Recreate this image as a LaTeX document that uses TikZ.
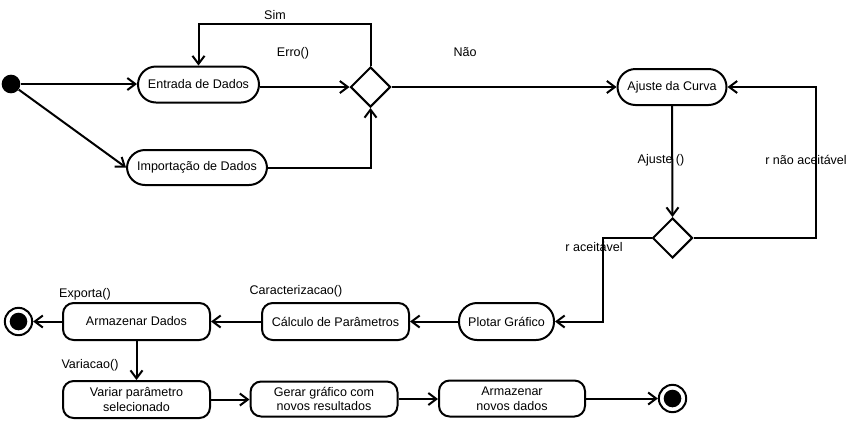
\documentclass[tikz,border=0pt]{standalone}
\usepackage{fontspec}
\setmainfont{Liberation Sans}
\usetikzlibrary{arrows.meta,shapes.geometric}
\tikzset{
  px/.style={x=0.75pt,y=-0.75pt},
  lbl/.style={font=\fontsize{9.4pt}{11pt}\selectfont,inner sep=0pt},
  act/.style={draw,line width=1.5pt,rectangle,font=\fontsize{9.4pt}{11pt}\selectfont,inner sep=1pt,align=center},
  stad/.style={act,rounded corners=13.5pt},
  rbox/.style={act,rounded corners=8pt},
  dec/.style={draw,line width=1.5pt,diamond,minimum width=30pt,minimum height=30pt,inner sep=0pt},
  startst/.style={circle,fill=black,minimum size=14pt,inner sep=0pt},
  endst/.style={circle,draw,line width=1.5pt,minimum size=20.5pt,inner sep=0pt,
     path picture={\fill (path picture bounding box.center) circle (6.6pt);}},
  flow/.style={line width=1.5pt,-{Straight Barb[length=6pt,width=9pt,line width=1.5pt]}},
}
\begin{document}
\begin{tikzpicture}[px]
\useasboundingbox (0,0) rectangle (859,426);
% labels
\node[lbl] (lsim) at (275,15) {Sim};
\node[lbl] (lerro) at (293,53) {Erro()};
\node[lbl] (lnao) at (465,52) {Não};
\node[lbl] (lajuste) at (661,160) {Ajuste ()};
\node[lbl] (lrna) at (806,160) {r não aceitável};
\node[lbl] (lra) at (594,247) {r aceitável};
\node[lbl] (lexp) at (85,294) {Exporta()};
\node[lbl] (lcar) at (296,291) {Caracterizacao()};
\node[lbl] (lvar) at (90,365) {Variacao()};
% nodes
\node[startst] (ini) at (11,84) {};
\node[stad,minimum width=90.75pt,minimum height=27pt] (ent) at (198.5,84.5) {Entrada de Dados};
\node[stad,minimum width=105pt,minimum height=26.25pt] (imp) at (197,167.5) {Importação de Dados};
\node[dec] (d1) at (370.5,87) {};
\node[stad,minimum width=81.75pt,minimum height=27pt] (aju) at (672,87) {Ajuste da Curva};
\node[dec] (d2) at (672.5,238) {};
\node[stad,minimum width=71.25pt,minimum height=27.75pt] (plo) at (506.5,321.5) {Plotar Gráfico};
\node[rbox,minimum width=110.25pt,minimum height=27.75pt] (cal) at (335.5,321.5) {Cálculo de Parâmetros};
\node[rbox,minimum width=110.25pt,minimum height=27.75pt] (arm) at (136.5,321.5) {Armazenar Dados};
\node[endst] (fin1) at (18.5,321.5) {};
\node[rbox,minimum width=110.25pt,minimum height=27.75pt] (var) at (136.5,399.5) {Variar parâmetro\\selecionado};
\node[rbox,minimum width=110.25pt,minimum height=26.25pt] (ger) at (324,399) {Gerar gráfico com\\novos resultados};
\node[rbox,minimum width=109.5pt,minimum height=27pt] (nov) at (512,398.5) {Armazenar\\novos dados};
\node[endst] (fin2) at (672.5,398.5) {};
\coordinate (c1) at (816,238);
\coordinate (c2) at (603,238);
% connectors
\draw[flow] (ini) -- (ini -| ent.west);
\draw[flow] (ini) -- (imp.west);
\draw[flow] (ent.east |- d1.west) -- (d1.west);
\draw[flow] (imp.east) -| (d1.south);
\draw[flow] (d1.north) -- ++(0,-42) -| (ent.north);
\draw[flow] (d1.east) -- (aju.west);
\draw[flow] (aju.south) -- (d2.north);
\draw[flow] (d2.east) -- (c1) |- (aju.east);
\draw[flow] (d2.west) -- (c2) |- (plo.east);
\draw[flow] (plo.west) -- (cal.east);
\draw[flow] (cal.west) -- (arm.east);
\draw[flow] (arm.west) -- (fin1.east);
\draw[flow] (arm.south) -- (var.north);
\draw[flow] (var.east) -- (var.east -| ger.west);
\draw[flow] (ger.east) -- (ger.east -| nov.west);
\draw[flow] (nov.east) -- (fin2.west);
\end{tikzpicture}
\end{document}
